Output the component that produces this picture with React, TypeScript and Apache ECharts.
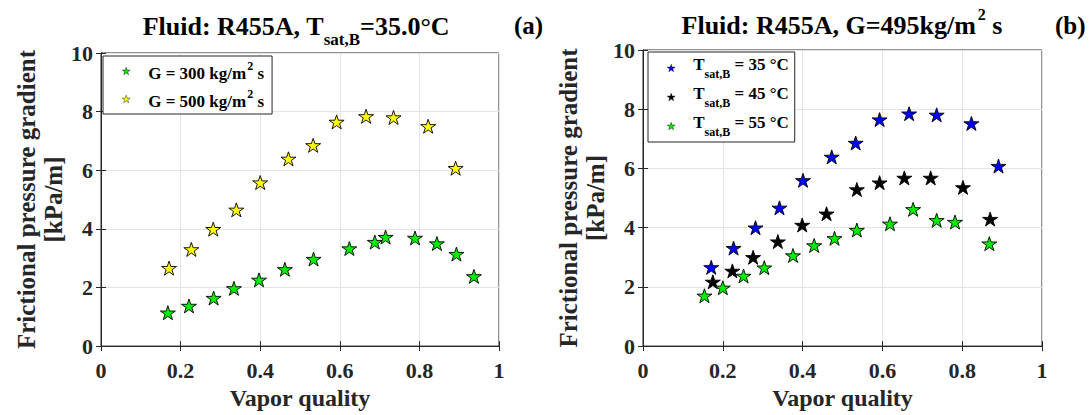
import React, { useEffect, useRef } from "react";
import * as echarts from "echarts";

// ---------- data ----------
const qualityG300 = [0.168, 0.221, 0.283, 0.334, 0.397, 0.462, 0.534, 0.624, 0.688, 0.715, 0.789, 0.844, 0.893, 0.937];
const dpG300 = [1.14, 1.37, 1.64, 1.97, 2.26, 2.62, 2.97, 3.33, 3.55, 3.72, 3.69, 3.5, 3.14, 2.38];
const qualityG500 = [0.171, 0.227, 0.282, 0.34, 0.4, 0.471, 0.533, 0.592, 0.666, 0.735, 0.822, 0.891];
const dpG500 = [2.66, 3.3, 3.99, 4.65, 5.58, 6.39, 6.85, 7.65, 7.84, 7.8, 7.5, 6.07];

const qualityT35 = [0.171, 0.227, 0.282, 0.342, 0.401, 0.473, 0.533, 0.593, 0.667, 0.736, 0.823, 0.891];
const dpT35 = [2.66, 3.31, 4.0, 4.67, 5.6, 6.39, 6.86, 7.65, 7.85, 7.81, 7.52, 6.08];
const qualityT45 = [0.175, 0.224, 0.276, 0.338, 0.399, 0.46, 0.536, 0.593, 0.655, 0.721, 0.802, 0.87];
const dpT45 = [2.17, 2.54, 3.0, 3.53, 4.09, 4.47, 5.29, 5.52, 5.68, 5.68, 5.36, 4.29];
const qualityT55 = [0.154, 0.2, 0.252, 0.304, 0.376, 0.429, 0.48, 0.536, 0.619, 0.677, 0.736, 0.782, 0.868];
const dpT55 = [1.7, 1.97, 2.37, 2.65, 3.06, 3.4, 3.64, 3.92, 4.13, 4.62, 4.25, 4.19, 3.46];

const xMin = 0, xMax = 1, xStep = 0.2;
const yMin = 0, yMax = 10, yStep = 2;

const titleLeft = ["Fluid: R455A, T", "sat,B", "=35.0°C"];
const titleRight = ["Fluid: R455A, G=495kg/m", "2", " s"];
const panelTags = ["(a)", "(b)"];
const xName = "Vapor quality";
const yName = "Frictional pressure gradient\n[kPa/m]";

const seriesNames = ["G300", "G500", "T35", "T45", "T55"];
const legendLabels: Record<string, string> = {
  G300: "{f|G = 300 kg/m}{sup|2}{n| s}",
  G500: "{f|G = 500 kg/m}{sup|2}{n| s}",
  T35: "{f|T}{sub|sat,B}{n| = 35 °C}",
  T45: "{f|T}{sub|sat,B}{n| = 45 °C}",
  T55: "{f|T}{sub|sat,B}{n| = 55 °C}",
};

const FONT = "Liberation Serif";
const STAR =
  "path://M100 0L122.45 69.1L195.1 69.1L136.3 111.8L158.8 180.9L100 138.2L41.2 180.9L63.7 111.8L4.9 69.1L77.55 69.1Z";
const AX = "#262626";

const zip = (xs: number[], ys: number[]) => xs.map((x, i) => [x, ys[i]]);

function App() {
  const ref = useRef<HTMLDivElement>(null);
  useEffect(() => {
    if (!ref.current) return;
    const chart = echarts.init(ref.current, null, { renderer: "svg" });

    const grids = [
      { left: 101, right: 593, top: 53, bottom: 65 },
      { left: 643, right: 50, top: 50, bottom: 66 },
    ].map((g) => ({ ...g, show: true, borderColor: AX, borderWidth: 1, backgroundColor: "#fff" }));

    const tickLabel = { fontFamily: FONT, fontWeight: "bold", fontSize: 22, color: AX };
    const mkX = (gi: number) => [
      {
        type: "value", gridIndex: gi, min: xMin, max: xMax, interval: xStep, position: "bottom",
        axisLine: { show: true, lineStyle: { color: AX } },
        axisTick: { show: true, inside: true, length: 5, lineStyle: { color: AX } },
        axisLabel: { ...tickLabel, margin: 13 },
        splitLine: { show: true, lineStyle: { color: "#e3e3e3" } },
        name: xName, nameLocation: "middle", nameGap: 37,
        nameTextStyle: { fontFamily: FONT, fontWeight: "bold", fontSize: 24, color: AX },
      },
      {
        type: "value", gridIndex: gi, min: xMin, max: xMax, interval: xStep, position: "top",
        axisLine: { show: true, lineStyle: { color: AX } },
        axisTick: { show: true, inside: true, length: 5, lineStyle: { color: AX } },
        axisLabel: { show: false }, splitLine: { show: false },
      },
    ];
    const mkY = (gi: number) => [
      {
        type: "value", gridIndex: gi, min: yMin, max: yMax, interval: yStep, position: "left",
        axisLine: { show: true, lineStyle: { color: AX } },
        axisTick: { show: true, inside: true, length: 5, lineStyle: { color: AX } },
        axisLabel: { ...tickLabel, margin: 8 },
        splitLine: { show: true, lineStyle: { color: "#e3e3e3" } },
        name: yName, nameLocation: "middle", nameGap: 33,
        nameTextStyle: { fontFamily: FONT, fontWeight: "bold", fontSize: 25, lineHeight: 27, color: AX },
      },
      {
        type: "value", gridIndex: gi, min: yMin, max: yMax, interval: yStep, position: "right",
        axisLine: { show: true, lineStyle: { color: AX } },
        axisTick: { show: true, inside: true, length: 5, lineStyle: { color: AX } },
        axisLabel: { show: false }, splitLine: { show: false },
      },
    ];

    const scatter = (name: string, xs: number[], ys: number[], color: string, gi: number) => ({
      type: "scatter", name,
      xAxisIndex: gi * 2, yAxisIndex: gi * 2,
      data: zip(xs, ys),
      symbol: STAR, symbolSize: [15, 14],
      itemStyle: { color, borderColor: "#000", borderWidth: 0.9, opacity: 1 },
    });

    const base = { fontFamily: FONT, fontWeight: "bold", color: "#000" };
    const legendText = (topPad: boolean) => ({
      ...base, fontSize: 17,
      rich: topPad
        ? {
            f: { ...base, fontSize: 17, verticalAlign: "top", padding: [5, 0, 0, 13] },
            n: { ...base, fontSize: 17, verticalAlign: "top", padding: [5, 0, 0, 0] },
            sup: { ...base, fontSize: 12, verticalAlign: "top", padding: [0, 0, 0, 1] },
          }
        : {
            f: { ...base, fontSize: 17, verticalAlign: "bottom", padding: [0, 0, 7, 13] },
            n: { ...base, fontSize: 17, verticalAlign: "bottom", padding: [0, 0, 7, 0] },
            sub: { ...base, fontSize: 12, verticalAlign: "bottom", padding: [0, 0, 0, 0] },
          },
    });

    const titleRich = {
      a: { ...base, fontSize: 26, verticalAlign: "bottom", padding: [0, 0, 9, 0] },
      b: { ...base, fontSize: 17, verticalAlign: "bottom" },
      c: { ...base, fontSize: 26, verticalAlign: "top", padding: [6, 0, 0, 0] },
      d: { ...base, fontSize: 16, verticalAlign: "top", padding: [0, 0, 0, 2] },
    };

    const legendCommon = {
      orient: "vertical", itemWidth: 8, itemHeight: 8,
      borderColor: AX, borderWidth: 1, backgroundColor: "#fff",
      itemStyle: { borderWidth: 0.4, borderColor: "#000" },
      formatter: (n: string) => legendLabels[n],
    };

    chart.setOption({
      animation: false,
      backgroundColor: "#fff",
      title: [
        {
          text: `{a|${titleLeft[0]}}{b|${titleLeft[1]}}{a|${titleLeft[2]}}`,
          left: 291, top: 8, textAlign: "center",
          textStyle: { rich: titleRich },
        },
        {
          text: `{c|${titleRight[0]}}{d|${titleRight[1]}}{c|${titleRight[2]}}`,
          left: 837, top: 1, textAlign: "center",
          textStyle: { rich: titleRich },
        },
        { text: panelTags[0], left: 509, top: 8, textStyle: { ...base, fontSize: 25 } },
        { text: panelTags[1], left: 1050, top: 8, textStyle: { ...base, fontSize: 25 } },
      ],
      legend: [
        {
          ...legendCommon,
          data: seriesNames.slice(0, 2), left: 103, top: 56,
          padding: [4, 8, 4, 19], itemGap: 6,
          textStyle: legendText(true),
        },
        {
          ...legendCommon,
          data: seriesNames.slice(2), left: 648, top: 52,
          padding: [4, 6, 4, 19], itemGap: 5,
          textStyle: legendText(false),
        },
      ],
      grid: grids,
      xAxis: [...mkX(0), ...mkX(1)],
      yAxis: [...mkY(0), ...mkY(1)],
      series: [
        scatter("G300", qualityG300, dpG300, "#00ee00", 0),
        scatter("G500", qualityG500, dpG500, "#ffff00", 0),
        scatter("T35", qualityT35, dpT35, "#0000ff", 1),
        scatter("T45", qualityT45, dpT45, "#000000", 1),
        scatter("T55", qualityT55, dpT55, "#00ee00", 1),
      ],
    });
    return () => chart.dispose();
  }, []);
  return (
    <div
      ref={ref}
      style={{ position: "absolute", left: 0, top: 0, width: 1092, height: 415, background: "#fff" }}
    />
  );
}

export default App;
